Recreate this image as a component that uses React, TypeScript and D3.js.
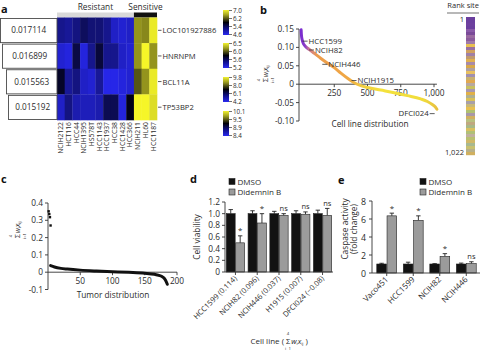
import React from "react";
import * as d3 from "d3";

const FONT = "'Open Sans', 'Noto Sans', sans-serif";
const TXT = "#2b2b2b";

// ---------- Panel a ----------
const heatCols = ["NCIH2122", "HCT116", "HCC44", "NCIH1395", "HS578T", "HCC1143", "HCC1937", "HCC38", "HCC1428", "HCC366", "NCIH211", "HL60", "HCC1187"];
const heatGenes = ["LOC101927886", "HNRNPM", "BCL11A", "TP53BP2"];
const heatWeights = ["0.017114", "0.016899", "0.015563", "0.015192"];
const heatRows = [
  [-0.55, -0.6, -0.5, -0.35, -0.45, -0.45, -0.55, -0.8, -0.85, -0.8, 0.6, 0.55, 0.95],
  [-0.85, -0.9, -0.25, -0.9, -0.55, -0.2, -0.55, -0.55, -0.8, -0.85, 0.6, 1.0, 0.6],
  [-0.12, -0.6, -0.5, -0.8, -0.85, -0.6, -0.95, -0.95, -0.9, -0.85, 0.35, 0.6, 0.95],
  [-0.8, -0.5, -0.7, -0.75, -0.75, -0.7, -0.3, -0.3, -0.9, -0.05, 1.0, 1.0, 0.9],
];
const resistantCount = 10;
const barTicks = [
  ["7.0", "6.2", "5.4", "4.6"],
  ["6.5", "6.0", "5.6", "5.2"],
  ["9.8", "8.0", "6.1", "4.2"],
  ["10.1", "9.5", "8.9", "8.4"],
];

// ---------- Panel b ----------
const bIndex = [1, 3, 8, 15, 30, 60, 100, 150, 200, 250, 300, 350, 400, 450, 500, 600, 700, 800, 900, 950, 990, 1010, 1022];
const bValue = [0.148, 0.135, 0.122, 0.113, 0.104, 0.095, 0.084, 0.07, 0.057, 0.045, 0.03, 0.016, 0.004, -0.004, -0.009, -0.016, -0.023, -0.031, -0.04, -0.047, -0.056, -0.062, -0.068];
const bYTicks = [0.15, 0.1, 0.05, 0, -0.05, -0.1];
const bYTickLabels = ["0.15", "0.10", "0.05", "0", "-0.05", "-0.10"];
const bXTicks = [250, 500, 750, 1000];
const bXTickLabels = ["250", "500", "750", "1,000"];
const bLabelNames = ["HCC1599", "NCIH82", "NCIH446", "NCIH1915", "DFCI024"];
const bLabelIdx = [12, 60, 160, 380, 1005];
const bLabelVal = [0.117, 0.093, 0.054, 0.01, -0.08];
const rankColors = [
  "#6b3f9e", "#6b3f9e", "#6e409f", "#6b3f9e", "#8a5aa8", "#7a4a98", "#9a6aa0", "#8c5c9c", "#a07aa8",
  "#e8c050", "#9a70a0", "#d0a060", "#a080a8", "#c09a70", "#e0b050", "#a88aa8", "#d8a848", "#b0a0a0",
  "#e8c060", "#a090b0", "#c8b070", "#e0a850", "#b8a8a0", "#c8c060", "#a898b0", "#e0b048", "#b0b090",
  "#d8c058", "#a8a0a8", "#c8b878", "#e8c050", "#b0c070", "#a898a8", "#d0b060", "#b8c080", "#c0a880",
  "#a8b888", "#d8c060", "#b0c078", "#c0b0a0", "#b8c070", "#d0b868", "#a8b890", "#c8c070", "#b8b088", "#d0b060",
];

// ---------- Panel c ----------
const cOutIdx = [1, 2, 3, 4];
const cOutVal = [0.352, 0.336, 0.318, 0.27];
const cIdx = [4, 10, 20, 30, 50, 75, 100, 125, 150, 165, 172, 178, 182, 185];
const cVal = [0.038, 0.03, 0.022, 0.018, 0.012, 0.007, 0.003, -0.001, -0.006, -0.012, -0.018, -0.028, -0.045, -0.07];
const cYTicks = [0.4, 0.3, 0.2, 0.1, 0, -0.1];
const cYTickLabels = ["0.4", "0.3", "0.2", "0.1", "0", "-0.1"];
const cXTicks = [50, 100, 150, 200];

// ---------- Panel d ----------
const dCats = ["HCC1599 (0.114)", "NCIH82 (0.096)", "NCIH446 (0.037)", "H1915 (0.007)", "DFCI024 (\u22120.08)"];
const dDmso = [1, 1, 1, 1, 1];
const dDmsoErr = [0.07, 0.05, 0.04, 0.05, 0.06];
const dDid = [0.5, 0.84, 0.97, 0.99, 0.97];
const dDidErr = [0.12, 0.16, 0.03, 0.04, 0.12];
const dSig = ["*", "*", "ns", "ns", "ns"];
const dYTicks = [0, 0.2, 0.4, 0.6, 0.8, 1.0, 1.2];
const dYTickLabels = ["0", "0.2", "0.4", "0.6", "0.8", "1.0", "1.2"];

// ---------- Panel e ----------
const eCats = ["Vaco451", "HCC1599", "NCIH82", "NCIH446"];
const eDmso = [1, 1, 1, 1];
const eDmsoErr = [0.08, 0.2, 0.04, 0.1];
const eDid = [6.35, 5.85, 1.85, 1.05];
const eDidErr = [0.3, 0.5, 0.3, 0.2];
const eSig = ["*", "*", "*", "ns"];
const eYTicks = [0, 2, 4, 6, 8];

const legendNames = ["DMSO", "Didemnin B"];
const BLACK = "#121212";
const GRAY = "#9b9b9b";

function SumFormula({ x, y, s = 8, rotate = true }: { x: number; y: number; s?: number; rotate?: boolean }) {
  const small = s * 0.58;
  return (
    <g transform={`translate(${x},${y})${rotate ? " rotate(-90)" : ""}`} fill={TXT} fontFamily={FONT}>
      <text x={0} y={s * 0.38} fontSize={s} textAnchor="middle">Σ</text>
      <text x={0} y={-s * 0.78} fontSize={small} textAnchor="middle">4</text>
      <text x={0} y={s * 1.22} fontSize={small} textAnchor="middle">i=1</text>
      <text x={s * 0.42} y={s * 0.38} fontSize={s}>
        <tspan fontStyle="italic">w</tspan>
        <tspan fontSize={small} dy={s * 0.2}>i</tspan>
        <tspan fontStyle="italic" dy={-s * 0.2}>x</tspan>
        <tspan fontSize={small} dy={s * 0.2}>ij</tspan>
      </text>
    </g>
  );
}

function ErrBar({ x, y0, y1 }: { x: number; y0: number; y1: number }) {
  return (
    <g stroke="#222" strokeWidth={0.9}>
      <line x1={x} x2={x} y1={y0} y2={y1} />
      <line x1={x - 2.2} x2={x + 2.2} y1={y1} y2={y1} />
    </g>
  );
}

function Legend({ x, y }: { x: number; y: number }) {
  return (
    <g fontFamily={FONT} fontSize={8} fill={TXT}>
      {legendNames.map((n, i) => (
        <g key={n} transform={`translate(${x},${y + i * 10.5})`}>
          <rect x={0} y={0} width={6} height={6} fill={i === 0 ? BLACK : GRAY} stroke="#222" strokeWidth={0.6} />
          <text x={8.5} y={6}>{n}</text>
        </g>
      ))}
    </g>
  );
}

function PanelA() {
  const xb = d3.scaleBand<string>().domain(heatCols).range([57, 157]);
  const yb = d3.scaleBand<string>().domain(heatGenes).range([17.5, 120]);
  const col = d3.scaleLinear<string>().domain([-1, 0, 1]).range(["#2828f4", "#00000c", "#f6f628"]);
  const boxLeft = [0.5, 2.5, 6.5, 8.5];
  const barTop = [10, 43, 77, 111];
  const barH = 25;
  const sensX = xb(heatCols[resistantCount])!;
  return (
    <g fontFamily={FONT} fill={TXT}>
      <text x={1} y={13} fontSize={11} fontWeight="bold" fill="#111">a</text>
      <text x={(57 + sensX) / 2} y={10} fontSize={8.3} textAnchor="middle">Resistant</text>
      <text x={(sensX + 157) / 2} y={10} fontSize={8.3} textAnchor="middle">Sensitive</text>
      <rect x={57} y={12.5} width={sensX - 57} height={5} fill="#d9d9d9" />
      <rect x={sensX} y={12.5} width={157 - sensX} height={5} fill="#111" />
      {heatRows.map((row, r) =>
        row.map((v, c) => (
          <rect key={`${r}-${c}`} x={xb(heatCols[c])} y={yb(heatGenes[r])} width={xb.bandwidth() + 0.3} height={yb.bandwidth() + 0.3} fill={col(v)} />
        ))
      )}
      {heatGenes.map((g, r) => {
        const cy = yb(g)! + yb.bandwidth() / 2;
        return (
          <g key={g}>
            <line x1={158} x2={161.5} y1={cy} y2={cy} stroke="#333" strokeWidth={0.8} />
            <text x={162.5} y={cy + 3} fontSize={7.6}>{g}</text>
            <rect x={boxLeft[r]} y={yb(g)! + 1} width={57 - boxLeft[r]} height={yb.bandwidth() - 1.5} fill="#fff" stroke="#4a4a4a" strokeWidth={0.9} />
            <text x={(boxLeft[r] + 57) / 2} y={cy + 3} fontSize={8.2} textAnchor="middle">{heatWeights[r]}</text>
          </g>
        );
      })}
      {heatCols.map((c) => {
        const cx = xb(c)! + xb.bandwidth() / 2;
        return (
          <text key={c} transform={`translate(${cx + 2.4},122) rotate(-90)`} fontSize={6.8} textAnchor="end">{c}</text>
        );
      })}
      <defs>
        <linearGradient id="cbar" x1="0" y1="0" x2="0" y2="1">
          <stop offset="0" stopColor="#f2f230" />
          <stop offset="0.2" stopColor="#a0a020" />
          <stop offset="0.5" stopColor="#000008" />
          <stop offset="0.75" stopColor="#10108a" />
          <stop offset="1" stopColor="#2a2af0" />
        </linearGradient>
      </defs>
      {barTicks.map((ticks, i) => (
        <g key={i}>
          <rect x={223} y={barTop[i]} width={6} height={barH} fill="url(#cbar)" />
          {ticks.map((t, k) => {
            const ty = barTop[i] + 0.5 + k * 8;
            return (
              <g key={t}>
                <line x1={229} x2={232} y1={ty} y2={ty} stroke="#333" strokeWidth={0.7} />
                <text x={233} y={ty + 2.3} fontSize={6.3}>{t}</text>
              </g>
            );
          })}
        </g>
      ))}
    </g>
  );
}

function PanelB() {
  const x = d3.scaleLinear().domain([0, 1000]).range([301, 434]);
  const y = d3.scaleLinear().domain([-0.1, 0.15]).range([121, 29]);
  const pts = bIndex.map((d, i) => [x(d), y(bValue[i])] as [number, number]);
  const line = d3.line().curve(d3.curveMonotoneX)(pts)!;
  const rankY = d3.scaleBand<number>().domain(rankColors.map((_, i) => i)).range([17, 155]);
  return (
    <g fontFamily={FONT} fill={TXT}>
      <text x={260} y={14} fontSize={11} fontWeight="bold" fill="#111">b</text>
      <defs>
        <linearGradient id="bcurve" gradientUnits="userSpaceOnUse" x1={x(0)} y1={0} x2={x(1022)} y2={0}>
          <stop offset="0" stopColor="#7a2cd0" />
          <stop offset="0.03" stopColor="#8a3cc8" />
          <stop offset="0.06" stopColor="#d07a90" />
          <stop offset="0.12" stopColor="#ec9c4c" />
          <stop offset="0.35" stopColor="#f0a844" />
          <stop offset="0.45" stopColor="#f0cc40" />
          <stop offset="0.6" stopColor="#f4e23c" />
          <stop offset="0.9" stopColor="#f0dc3c" />
          <stop offset="1" stopColor="#e8c040" />
        </linearGradient>
      </defs>
      <line x1={299} x2={299} y1={y(0.15)} y2={y(-0.1)} stroke="#333" strokeWidth={0.9} />
      {bYTicks.map((t, i) => (
        <g key={t}>
          <line x1={296} x2={299} y1={y(t)} y2={y(t)} stroke="#333" strokeWidth={0.9} />
          <text x={294} y={y(t) + 3} fontSize={8.3} textAnchor="end">{bYTickLabels[i]}</text>
        </g>
      ))}
      <line x1={299} x2={x(1022)} y1={y(0)} y2={y(0)} stroke="#333" strokeWidth={0.9} />
      {bXTicks.map((t, i) => (
        <g key={t}>
          <line x1={x(t)} x2={x(t)} y1={y(0)} y2={y(0) + 3} stroke="#333" strokeWidth={0.9} />
          <text x={x(t)} y={y(0) + 12} fontSize={8.3} textAnchor="middle">{bXTickLabels[i]}</text>
        </g>
      ))}
      <path d={line} fill="none" stroke="url(#bcurve)" strokeWidth={3} strokeLinecap="round" />
      {bLabelNames.map((n, i) => {
        const lx = x(bLabelIdx[i]);
        const ly = y(bLabelVal[i]);
        const end = i === bLabelNames.length - 1;
        return end ? (
          <g key={n}>
            <line x1={lx - 5} x2={lx} y1={ly} y2={ly} stroke="#333" strokeWidth={0.8} />
            <text x={lx - 6} y={ly + 2.8} fontSize={7.8} textAnchor="end">{n}</text>
          </g>
        ) : (
          <g key={n}>
            <line x1={lx} x2={lx + 5} y1={ly} y2={ly} stroke="#333" strokeWidth={0.8} />
            <text x={lx + 6} y={ly + 2.8} fontSize={7.8}>{n}</text>
          </g>
        );
      })}
      <text x={370} y={127} fontSize={8.3} textAnchor="middle">Cell line distribution</text>
      <SumFormula x={265} y={80} s={7} />
      <text x={479} y={8} fontSize={7.5} textAnchor="end">Rank site</text>
      <line x1={447} x2={479} y1={13} y2={13} stroke="#333" strokeWidth={0.7} />
      <text x={464} y={22} fontSize={7.5} textAnchor="end">1</text>
      <text x={464} y={155} fontSize={7.5} textAnchor="end">1,022</text>
      {rankColors.map((c, i) => (
        <rect key={i} x={466} y={rankY(i)} width={9} height={rankY.bandwidth() + 0.2} fill={c} />
      ))}
    </g>
  );
}

function PanelC() {
  const x = d3.scaleLinear().domain([0, 200]).range([48, 177]);
  const y = d3.scaleLinear().domain([-0.1, 0.4]).range([289.5, 203]);
  const pts = cIdx.map((d, i) => [x(d), y(cVal[i])] as [number, number]);
  const line = d3.line().curve(d3.curveMonotoneX)(pts)!;
  return (
    <g fontFamily={FONT} fill={TXT}>
      <text x={1} y={183} fontSize={11} fontWeight="bold" fill="#111">c</text>
      <line x1={48} x2={48} y1={y(0.4)} y2={y(-0.1)} stroke="#333" strokeWidth={0.9} />
      {cYTicks.map((t, i) => (
        <g key={t}>
          <line x1={45} x2={48} y1={y(t)} y2={y(t)} stroke="#333" strokeWidth={0.9} />
          <text x={43} y={y(t) + 3} fontSize={8.3} textAnchor="end">{cYTickLabels[i]}</text>
        </g>
      ))}
      <line x1={48} x2={x(200)} y1={y(0)} y2={y(0)} stroke="#333" strokeWidth={0.9} />
      {cXTicks.map((t) => (
        <g key={t}>
          <line x1={x(t)} x2={x(t)} y1={y(0)} y2={y(0) + 3} stroke="#333" strokeWidth={0.9} />
          <text x={x(t)} y={y(0) + 12} fontSize={8.3} textAnchor="middle">{t}</text>
        </g>
      ))}
      <path d={line} fill="none" stroke="#111" strokeWidth={3} strokeLinecap="round" />
      {cOutIdx.map((d, i) => (
        <rect key={i} x={x(d) - 1.2} y={y(cOutVal[i]) - 1.2} width={2.4} height={2.4} fill="#111" />
      ))}
      <text x={113} y={298} fontSize={8.3} textAnchor="middle">Tumor distribution</text>
      <SumFormula x={17} y={236} s={7} />
    </g>
  );
}

function PanelD() {
  const x0 = d3.scaleBand<string>().domain(dCats).range([225, 333]).paddingInner(0.16).paddingOuter(0.06);
  const x1 = d3.scaleBand<string>().domain(legendNames).range([0, x0.bandwidth()]).paddingInner(0.06);
  const y = d3.scaleLinear().domain([0, 1.2]).range([272, 202]);
  return (
    <g fontFamily={FONT} fill={TXT}>
      <text x={190} y={183} fontSize={11} fontWeight="bold" fill="#111">d</text>
      <Legend x={229} y={178.5} />
      {dCats.map((c, i) => {
        const bx = x0(c)!;
        const series = [
          { v: dDmso[i], e: dDmsoErr[i], f: BLACK, n: legendNames[0] },
          { v: dDid[i], e: dDidErr[i], f: GRAY, n: legendNames[1] },
        ];
        return (
          <g key={c}>
            {series.map((s) => (
              <g key={s.n}>
                <ErrBar x={bx + x1(s.n)! + x1.bandwidth() / 2} y0={y(s.v)} y1={y(s.v + s.e)} />
                <rect x={bx + x1(s.n)!} y={y(s.v)} width={x1.bandwidth()} height={y(0) - y(s.v)} fill={s.f} stroke="#222" strokeWidth={0.6} />
              </g>
            ))}
            <text x={bx + x1(legendNames[1])! + x1.bandwidth() / 2} y={y(dDid[i] + dDidErr[i]) - 2.5} fontSize={dSig[i] === "*" ? 8 : 7.5} textAnchor="middle">{dSig[i]}</text>
            <line x1={bx + x0.bandwidth() / 2} x2={bx + x0.bandwidth() / 2} y1={272} y2={275} stroke="#333" strokeWidth={0.9} />
            <text transform={`translate(${bx + x0.bandwidth() / 2 + 2},${279}) rotate(-45)`} fontSize={7.5} textAnchor="end">{c}</text>
          </g>
        );
      })}
      <line x1={225} x2={225} y1={y(1.2)} y2={y(0)} stroke="#333" strokeWidth={0.9} />
      <line x1={225} x2={333} y1={y(0)} y2={y(0)} stroke="#333" strokeWidth={0.9} />
      {dYTicks.map((t, i) => (
        <g key={t}>
          <line x1={222} x2={225} y1={y(t)} y2={y(t)} stroke="#333" strokeWidth={0.9} />
          <text x={220} y={y(t) + 3} fontSize={8.3} textAnchor="end">{dYTickLabels[i]}</text>
        </g>
      ))}
      <text transform={`translate(${200},${237}) rotate(-90)`} fontSize={8.3} textAnchor="middle">Cell viability</text>
      <text x={284} y={344} fontSize={8} textAnchor="end">Cell line (</text>
      <SumFormula x={288} y={341} s={7.5} rotate={false} />
      <text x={305.5} y={344} fontSize={8}>)</text>
    </g>
  );
}

function PanelE() {
  const x0 = d3.scaleBand<string>().domain(eCats).range([372, 481]).paddingInner(0.25).paddingOuter(0.18);
  const x1 = d3.scaleBand<string>().domain(legendNames).range([0, x0.bandwidth()]).paddingInner(0.06);
  const y = d3.scaleLinear().domain([0, 8]).range([273, 201]);
  return (
    <g fontFamily={FONT} fill={TXT}>
      <text x={338} y={184} fontSize={11} fontWeight="bold" fill="#111">e</text>
      <Legend x={420} y={178.5} />
      {eCats.map((c, i) => {
        const bx = x0(c)!;
        const series = [
          { v: eDmso[i], e: eDmsoErr[i], f: BLACK, n: legendNames[0] },
          { v: eDid[i], e: eDidErr[i], f: GRAY, n: legendNames[1] },
        ];
        return (
          <g key={c}>
            {series.map((s) => (
              <g key={s.n}>
                <ErrBar x={bx + x1(s.n)! + x1.bandwidth() / 2} y0={y(s.v)} y1={y(s.v + s.e)} />
                <rect x={bx + x1(s.n)!} y={y(s.v)} width={x1.bandwidth()} height={y(0) - y(s.v)} fill={s.f} stroke="#222" strokeWidth={0.6} />
              </g>
            ))}
            <text x={bx + x1(legendNames[1])! + x1.bandwidth() / 2} y={y(eDid[i] + eDidErr[i]) - 2.5} fontSize={eSig[i] === "*" ? 8 : 7.5} textAnchor="middle">{eSig[i]}</text>
            <line x1={bx + x0.bandwidth() / 2} x2={bx + x0.bandwidth() / 2} y1={273} y2={276} stroke="#333" strokeWidth={0.9} />
            <text transform={`translate(${bx + x0.bandwidth() / 2 + 2},${280}) rotate(-45)`} fontSize={8} textAnchor="end">{c}</text>
          </g>
        );
      })}
      <line x1={372} x2={372} y1={y(8)} y2={y(0)} stroke="#333" strokeWidth={0.9} />
      <line x1={372} x2={480} y1={y(0)} y2={y(0)} stroke="#333" strokeWidth={0.9} />
      {eYTicks.map((t) => (
        <g key={t}>
          <line x1={369} x2={372} y1={y(t)} y2={y(t)} stroke="#333" strokeWidth={0.9} />
          <text x={366} y={y(t) + 3.5} fontSize={8.8} textAnchor="end">{t}</text>
        </g>
      ))}
      <text transform={`translate(${348},${229}) rotate(-90)`} fontSize={8.3} textAnchor="middle">Caspase activity</text>
      <text transform={`translate(${357},${229}) rotate(-90)`} fontSize={8.3} textAnchor="middle">(fold change)</text>
    </g>
  );
}

export default function App() {
  return (
    <svg width={480} height={355} viewBox="0 0 480 355" style={{ position: "absolute", left: 0, top: 0, background: "#fff" }}>
      <rect x={0} y={0} width={480} height={355} fill="#fff" />
      <PanelA />
      <PanelB />
      <PanelC />
      <PanelD />
      <PanelE />
    </svg>
  );
}
